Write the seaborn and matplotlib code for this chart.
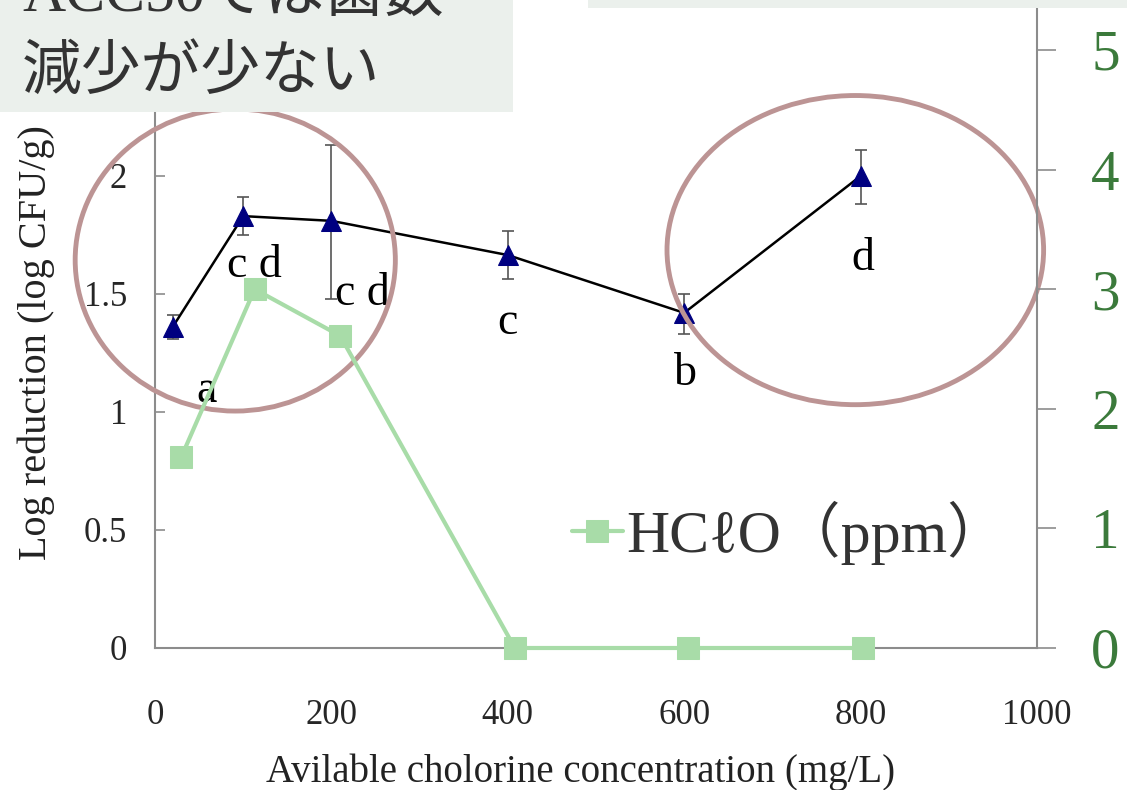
import numpy as np
import pandas as pd
import matplotlib
matplotlib.use("Agg")
import matplotlib.pyplot as plt
from matplotlib.patches import Ellipse, Rectangle
from matplotlib.font_manager import FontProperties
import seaborn as sns

# --- data ---
conc = [20, 100, 200, 400, 600, 800]
log_red = [1.36, 1.83, 1.81, 1.665, 1.42, 2.0]
err_hi = [0.05, 0.08, 0.32, 0.10, 0.08, 0.11]
err_lo = [0.05, 0.08, 0.33, 0.10, 0.09, 0.12]
letters = ["a", "c d", "c d", "c", "b", "d"]
letter_x = [59, 113, 235, 400, 601, 802]
letter_y = [1.09, 1.62, 1.50, 1.38, 1.16, 1.65]

hclo_conc = [30, 113, 210, 408, 604, 803]
hclo_ppm = [1.6, 3.0, 2.61, 0.0, 0.0, 0.0]

SERIF = "Liberation Serif"
MIXED = [SERIF, "Noto Sans CJK JP", "DejaVu Sans"]
GREEN_TXT = "#3b7a3b"
AXIS_GRAY = "#8c8c8c"
BOX = "#ebf0ec"
RING = "#bc9494"

sns.set_style("white")
plt.rcParams["font.family"] = MIXED

W, H = 1127, 790
fig = plt.figure(figsize=(W / 100, H / 100), dpi=100)
ax = fig.add_axes([155 / W, 1 - 648 / H, (1037 - 155) / W, (648 - 8) / H])
ax2 = ax.twinx()

df = pd.DataFrame({"conc": conc, "log_red": log_red})
sns.lineplot(data=df, x="conc", y="log_red", ax=ax, color="black", lw=1.8,
             marker="^", markersize=14, markerfacecolor="#000080",
             markeredgecolor="#000080", zorder=3)
ax.errorbar(conc, log_red, yerr=[err_lo, err_hi], fmt="none", ecolor="#555555",
            elinewidth=1.2, capsize=4, capthick=1.2, zorder=2)

for t, lx, ly in zip(letters, letter_x, letter_y):
    ax.text(lx, ly, t, ha="center", va="center", fontsize=33,
            family=SERIF, color="black")

dh = pd.DataFrame({"conc": hclo_conc, "ppm": hclo_ppm})
sns.lineplot(data=dh, x="conc", y="ppm", ax=ax2, color="#a8dca8", lw=3,
             marker="s", markersize=16, markeredgecolor="#a8dca8",
             label="HCℓO（ppm）", clip_on=False)

# rings highlighting groups
ax.add_patch(Ellipse((91, 1.644), 363, 1.28, fill=False, ec=RING, lw=3.5,
                     clip_on=False, zorder=4))
ax.add_patch(Ellipse((794, 1.686), 427, 1.31, fill=False, ec=RING, lw=3.5,
                     clip_on=False, zorder=4))

ax.set_xlim(0, 1000)
ax.set_ylim(0, 640 / 236)
ax2.set_ylim(0, 640 / 119.6)
ax.set_xticks([0, 200, 400, 600, 800, 1000])
ax.set_yticks([0, 0.5, 1, 1.5, 2, 2.5])
ax.set_yticklabels(["0", "0.5", "1", "1.5", "2", "2.5"])
ax2.set_yticks([0, 1, 2, 3, 4, 5])

for a in (ax, ax2):
    for s in a.spines.values():
        s.set_color(AXIS_GRAY)
        s.set_linewidth(1.5)
    a.spines["top"].set_visible(False)
ax.spines["right"].set_visible(False)
ax2.spines["left"].set_visible(False)
ax2.spines["bottom"].set_visible(False)

ax.tick_params(axis="x", direction="in", length=8, width=1.2, color="#333333",
               pad=37, labelsize=25, labelfontfamily=SERIF)
ax.tick_params(axis="y", direction="in", length=7, width=1.2, color=AXIS_GRAY,
               pad=20, labelsize=25, labelfontfamily=SERIF)
ax2.tick_params(axis="y", direction="out", length=14, width=1.2, color=AXIS_GRAY,
                pad=25, labelsize=41, labelcolor=GREEN_TXT, labelfontfamily=SERIF)

ax.set_xlabel("Avilable cholorine concentration (mg/L)", fontsize=28, family=SERIF,
              color="#222222")
ax.xaxis.set_label_coords(0.482, -0.165)
ax.set_ylabel("Log reduction (log CFU/g)", fontsize=29, family=SERIF, color="#222222")
ax.yaxis.set_label_coords(-0.113, 0.478)
ax2.set_ylabel("")

ax2.legend(loc="center left", bbox_to_anchor=(572 / W, 1 - 533 / H),
           bbox_transform=fig.transFigure, frameon=False, handlelength=0.85,
           handletextpad=0.05, borderpad=0, borderaxespad=0,
           labelcolor="#333333", prop=FontProperties(family=MIXED, size=43))

# note boxes on top
fig.add_artist(Rectangle((0, 1 - 112 / H), 513 / W, 112 / H, transform=fig.transFigure,
                         fc=BOX, ec="none", zorder=10))
fig.add_artist(Rectangle((588 / W, 1 - 8 / H), (W - 588) / W, 8 / H,
                         transform=fig.transFigure, fc=BOX, ec="none", zorder=10))
fig.text(22 / W, 1 - 11 / H, "ACC50では菌数", fontsize=43, family=MIXED,
         color="#333333", va="baseline", zorder=11)
fig.text(22 / W, 1 - 89 / H, "減少が少ない", fontsize=43, family=MIXED,
         color="#333333", va="baseline", zorder=11)

fig.savefig("out.png", dpi=100)
